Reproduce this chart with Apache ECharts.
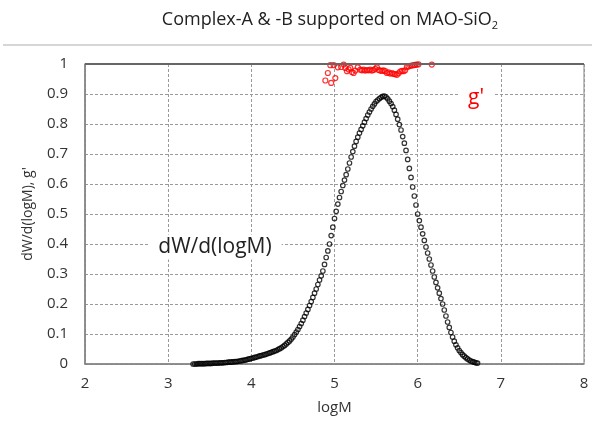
<!DOCTYPE html>
<html>
<head>
<meta charset="utf-8">
<script src="https://cdn.jsdelivr.net/npm/echarts@6/dist/echarts.min.js"></script>
<style>html,body{margin:0;padding:0;background:#fff;}#c{width:592px;height:425px;}</style>
</head>
<body>
<div id="c"></div>
<script>
// dW/d(logM) curve
const logM = [3.30,3.32,3.34,3.36,3.38,3.40,3.42,3.44,3.46,3.48,3.50,3.52,3.54,3.56,3.58,3.60,3.62,3.64,3.66,3.68,3.70,3.72,3.74,3.76,3.78,3.80,3.82,3.84,3.86,3.88,3.90,3.92,3.94,3.96,3.98,4.00,4.02,4.04,4.06,4.08,4.10,4.12,4.14,4.16,4.18,4.20,4.22,4.24,4.26,4.28,4.30,4.32,4.34,4.36,4.38,4.40,4.42,4.44,4.46,4.48,4.50,4.52,4.54,4.56,4.58,4.60,4.62,4.64,4.66,4.68,4.70,4.72,4.74,4.76,4.78,4.80,4.82,4.84,4.86,4.88,4.90,4.92,4.94,4.96,4.98,5.00,5.02,5.04,5.06,5.08,5.10,5.12,5.14,5.16,5.18,5.20,5.22,5.24,5.26,5.28,5.30,5.32,5.34,5.36,5.38,5.40,5.42,5.44,5.46,5.48,5.50,5.52,5.54,5.56,5.58,5.60,5.62,5.64,5.66,5.68,5.70,5.72,5.74,5.76,5.78,5.80,5.82,5.84,5.86,5.88,5.90,5.92,5.94,5.96,5.98,6.00,6.02,6.04,6.06,6.08,6.10,6.12,6.14,6.16,6.18,6.20,6.22,6.24,6.26,6.28,6.30,6.32,6.34,6.36,6.38,6.40,6.42,6.44,6.46,6.48,6.50,6.52,6.54,6.56,6.58,6.60,6.62,6.64,6.66,6.68,6.70,6.72];
const dW = [0.000,0.000,0.000,0.001,0.001,0.001,0.001,0.001,0.002,0.002,0.002,0.002,0.003,0.003,0.003,0.003,0.004,0.004,0.004,0.005,0.005,0.006,0.006,0.007,0.007,0.008,0.008,0.009,0.010,0.011,0.012,0.013,0.014,0.016,0.017,0.019,0.020,0.022,0.023,0.025,0.027,0.028,0.030,0.031,0.033,0.035,0.037,0.039,0.041,0.043,0.045,0.048,0.051,0.054,0.058,0.062,0.067,0.072,0.077,0.083,0.090,0.098,0.106,0.115,0.125,0.135,0.146,0.158,0.170,0.182,0.195,0.208,0.222,0.236,0.250,0.265,0.280,0.294,0.310,0.332,0.355,0.377,0.400,0.428,0.456,0.485,0.509,0.533,0.555,0.575,0.595,0.613,0.631,0.650,0.670,0.690,0.708,0.726,0.742,0.756,0.770,0.782,0.794,0.806,0.818,0.830,0.840,0.850,0.859,0.867,0.875,0.880,0.885,0.889,0.892,0.893,0.890,0.884,0.876,0.868,0.858,0.846,0.832,0.816,0.798,0.780,0.758,0.736,0.712,0.682,0.652,0.622,0.590,0.560,0.530,0.500,0.478,0.456,0.434,0.412,0.390,0.370,0.350,0.330,0.310,0.290,0.272,0.254,0.236,0.218,0.200,0.180,0.160,0.140,0.122,0.105,0.090,0.076,0.064,0.054,0.045,0.038,0.031,0.026,0.021,0.017,0.013,0.010,0.008,0.006,0.004,0.003];
// g' values
const gLogM = [4.89,4.92,4.95,4.96,4.99,5.01,5.04,5.08,5.11,5.13,5.15,5.17,5.19,5.21,5.23,5.25,5.28,5.31,5.33,5.35,5.37,5.39,5.41,5.43,5.45,5.47,5.49,5.51,5.53,5.55,5.57,5.59,5.61,5.63,5.65,5.67,5.69,5.71,5.73,5.75,5.77,5.79,5.81,5.83,5.85,5.87,5.89,5.91,5.93,5.95,5.97,5.99,6.01,6.17];
const gPrime = [0.945,0.970,0.996,0.937,0.996,0.953,0.989,0.990,0.998,0.987,0.976,0.982,0.987,0.973,0.970,0.978,0.989,0.981,0.979,0.981,0.978,0.980,0.979,0.981,0.978,0.980,0.984,0.989,0.980,0.978,0.977,0.979,0.976,0.970,0.972,0.968,0.970,0.967,0.966,0.964,0.969,0.975,0.977,0.976,0.979,0.990,0.992,0.994,0.995,0.996,0.997,0.998,0.999,0.998];

const titleText = 'Complex-A & -B supported on MAO-SiO';
const xAxisName = 'logM';
const yAxisName = "dW/d(logM), g'";
const dwLabel = 'dW/d(logM)';
const gLabel = "g'";

const chart = echarts.init(document.getElementById('c'), null, {renderer: 'canvas'});
const FONT = '"Open Sans", sans-serif';
const gridLine = {show: true, lineStyle: {color: '#9a9a9a', width: 1, type: [3, 2]}};

chart.setOption({
  animation: false,
  backgroundColor: '#fff',
  grid: {left: 85, right: 8, top: 64, bottom: 61, show: true, borderColor: '#808080', borderWidth: 1},
  xAxis: {
    type: 'value', min: 2, max: 8, interval: 1,
    name: xAxisName, nameLocation: 'middle', nameGap: 36,
    nameTextStyle: {fontFamily: FONT, fontSize: 15, color: '#333'},
    axisLine: {show: true, lineStyle: {color: '#808080', width: 1.5}},
    axisTick: {show: false},
    axisLabel: {fontFamily: FONT, fontSize: 15, color: '#333', margin: 12},
    splitLine: gridLine
  },
  yAxis: {
    type: 'value', min: 0, max: 1, interval: 0.1,
    name: yAxisName, nameLocation: 'middle', nameGap: 50, nameRotate: 90,
    nameTextStyle: {fontFamily: FONT, fontSize: 14, color: '#333'},
    axisLine: {show: true, lineStyle: {color: '#808080', width: 1.5}},
    axisTick: {show: false},
    axisLabel: {fontFamily: FONT, fontSize: 15, color: '#333', margin: 17, formatter: v => String(Math.round(v * 10) / 10)},
    splitLine: gridLine
  },
  graphic: [
    {type: 'line', shape: {x1: 3, y1: 45, x2: 592, y2: 45}, style: {stroke: '#c8c8c8', lineWidth: 1.5}, z: 10},
    {type: 'line', shape: {x1: 85, y1: 64, x2: 584, y2: 64}, style: {stroke: '#666', lineWidth: 2}, z: 10},
    {type: 'text', x: 330, y: 20, z: 10, style: {
      text: titleText + '{s|2}', align: 'center', verticalAlign: 'middle',
      fontFamily: FONT, fontSize: 18, fill: '#222',
      rich: {s: {fontSize: 11, fontFamily: FONT, fill: '#222', verticalAlign: 'bottom', padding: [11, 0, 0, 0]}}
    }},
    {type: 'text', x: 215, y: 247, z: 20, style: {
      text: dwLabel, align: 'center', verticalAlign: 'middle', fontFamily: FONT, fontSize: 21, fill: '#222',
      backgroundColor: '#fff', padding: [2, 10, 2, 10]
    }},
    {type: 'text', x: 476, y: 98, z: 20, style: {
      text: gLabel, align: 'center', verticalAlign: 'middle', fontFamily: FONT, fontSize: 21, fill: '#ff0000',
      backgroundColor: '#fff', padding: [2, 10, 2, 10]
    }}
  ],
  series: [
    {
      type: 'scatter', name: 'dW/d(logM)',
      data: logM.map((x, i) => [x, dW[i]]),
      symbol: 'circle', symbolSize: 4.5,
      itemStyle: {color: 'rgba(0,0,0,0)', borderColor: '#000', borderWidth: 1.2}
    },
    {
      type: 'scatter', name: "g'",
      data: gLogM.map((x, i) => [x, gPrime[i]]),
      symbol: 'circle', symbolSize: 5,
      itemStyle: {color: 'rgba(0,0,0,0)', borderColor: '#ff0000', borderWidth: 1.2}
    }
  ]
});
</script>
</body>
</html>
